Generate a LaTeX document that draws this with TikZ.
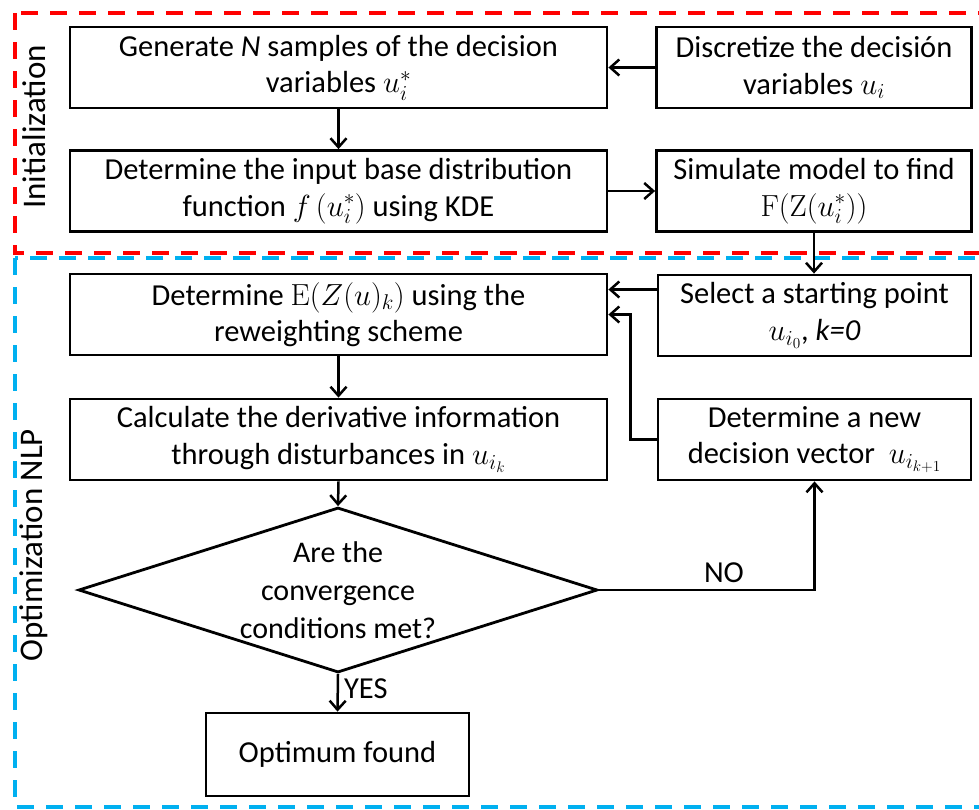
\RequirePackage{fix-cm}
\documentclass[tikz,border=0pt]{standalone}
\usepackage[no-math]{fontspec}
\setmainfont{Carlito}
\usetikzlibrary{arrows.meta,shapes.geometric,calc}
\definecolor{redframe}{RGB}{255,0,0}
\definecolor{blueframe}{RGB}{0,176,240}
\begin{document}
\begin{tikzpicture}[x=1pt,y=-1pt,
  font=\fontsize{30.5}{36.5}\selectfont,
  box/.style={draw,line width=2.8pt,align=center,inner sep=0pt},
  wbox/.style={box,minimum width=537pt,minimum height=81pt},
  nbox/.style={box,minimum width=315pt,minimum height=81pt},
  dia/.style={draw,line width=2.8pt,diamond,shape aspect=3,inner sep=0pt,
      minimum width=519pt,minimum height=165pt,align=center,
      font=\fontsize{30}{38}\selectfont},
  arr/.style={line width=2.5pt,-{Straight Barb[length=9pt,width=16pt,line width=2.5pt]}},
  frame/.style={line width=4pt,dash pattern=on 17pt off 12pt},
  side/.style={rotate=90,font=\fontsize{33}{38}\selectfont}]
\useasboundingbox (0,0) rectangle (979,809);
\clip (0,0) rectangle (979,809);
\fill[white] (0,0) rectangle (979,809);
% frames
\draw[frame,blueframe] (15,258) rectangle (990,807);
\draw[frame,redframe] (15,13) rectangle (990,253);
\node[side] (lInit) at (34,127) {Initialization};
\node[side] (lOpt) at (34,545) {Optimization NLP};
% boxes
\node[wbox] (gen) at (338.5,67.5) {Generate \textit{N} samples of the decision\\variables $u_i^*$};
\node[nbox] (disc) at (814,67.5) {Discretize the decisión\\variables $u_i$};
\node[wbox] (kde) at (338.5,191) {Determine the input base distribution\\function $f\,(u_i^*)$ using KDE};
\node[nbox] (sim) at (814,191) {Simulate model to find\\$\mathrm{F}\bigl(\mathrm{Z}(u_i^*)\bigr)$};
\node[wbox] (detE) at (338.5,314.5) {Determine $\mathrm{E}(Z(u)_k)$ using the\\reweighting scheme};
\node[nbox,minimum width=313pt] (sel) at (814.5,315.5) {Select a starting point\\$u_{i_0}$, \textit{k=0}};
\node[wbox] (calc) at (338.5,439.5) {Calculate the derivative information\\through disturbances in $u_{i_k}$};
\node[nbox,minimum width=313pt] (newv) at (814.5,439.5) {Determine a new\\decision vector~ $u_{i_{k+1}}$};
\node[dia] (conv) at (338,590) {Are the\\convergence\\conditions met?};
\node[box,minimum width=263pt,minimum height=83pt] (opt) at (337.5,754.5) {Optimum found};
% connectors
\draw[arr] (disc.west) -- (gen.east);
\draw[arr] (gen.south) -- (kde.north);
\draw[arr] (kde.east) -- (sim.west);
\draw[arr] (sim.south) -- (sel.north -| sim.south);
\draw[arr] ([yshift=26pt]sel.west) coordinate (s1) -- (s1 -| detE.east);
\draw[arr] (newv.west) -- ++(-26,0) |- (detE.east);
\draw[arr] (detE.south) -- (calc.north);
\draw[arr] (calc.south) -- (conv.north);
\draw[arr] (conv.east) -| node[pos=0.29,anchor=south,inner sep=6pt] {NO} (newv.south);
\draw[arr] (conv.south) -- node[pos=0.38,anchor=west,inner sep=5pt] {YES} (opt.north);
\end{tikzpicture}
\end{document}
